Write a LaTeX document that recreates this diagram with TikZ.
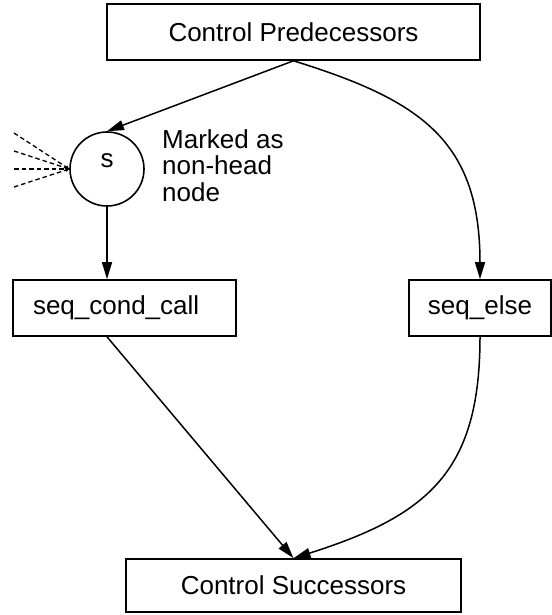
\documentclass[tikz,border=0pt]{standalone}
\usepackage{fontspec}
\setmainfont{Liberation Sans}
\usetikzlibrary{arrows.meta}
\begin{document}
\begin{tikzpicture}[x=1pt,y=-1pt,
  font=\fontsize{26}{26.5}\selectfont,
  box/.style={draw, line width=1.6pt, minimum height=56pt, inner sep=0pt},
  conn/.style={line width=1.5pt, -{Triangle[length=17pt,width=10pt]}},
  hint/.style={line width=1.3pt, dash pattern=on 4.5pt off 3pt, -{Triangle[length=3.5pt,width=3.5pt]}}
]
\useasboundingbox (0,0) rectangle (551,615);

% boxes and the head node
\node[box, minimum width=373pt] (cp) at (293.5,32) {Control Predecessors};
\node[draw, circle, line width=1.6pt, minimum size=74pt, inner sep=0pt, text depth=16pt] (s) at (107,169) {s};
\node[anchor=base west, align=left, inner sep=0pt] (note) at (162,201) {Marked as\\non-head\\node};
\node[box, minimum width=223pt, text width=183pt, align=left] (scc) at (124.5,308) {seq\_cond\_call};
\node[box, minimum width=142pt] (else) at (480,308) {seq\_else};
\node[box, minimum width=335pt, minimum height=53pt] (cs) at (293.5,585.5) {Control Successors};

% incoming edges from elsewhere
\coordinate (h1) at (14,133);
\coordinate (h2) at (14,151);
\coordinate (h3) at (14,169);
\coordinate (h4) at (14,187);
\foreach \h in {h1,h2,h3,h4} \draw[hint] (\h) -- (s.west);

% control flow
\draw[conn] (cp.south) -- (s.north);
\draw[conn] (cp.south) .. controls (420,100) and (480,140) .. (else.north);
\draw[conn] (s.south) -- (s.south |- scc.north);
\draw[conn] (s.south |- scc.south) -- (cs.north);
\draw[conn] (else.south) .. controls (480,470) and (430,515) .. (cs.north);
\end{tikzpicture}
\end{document}
